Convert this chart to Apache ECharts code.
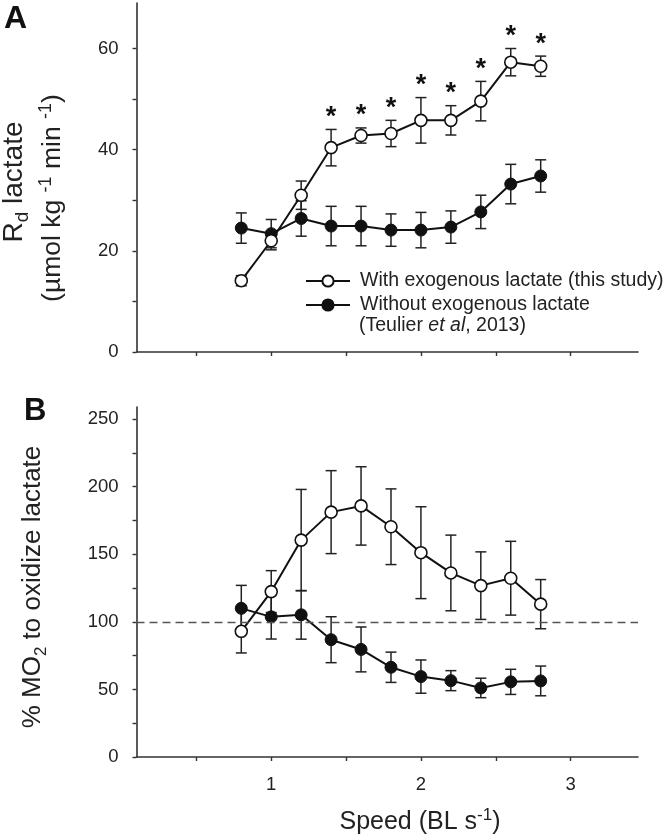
<!DOCTYPE html>
<html>
<head>
<meta charset="utf-8">
<script src="https://cdn.jsdelivr.net/npm/echarts@6/dist/echarts.min.js"></script>
<style>
html,body{margin:0;padding:0;background:#fff;}
#chart{width:663px;height:838px;}
</style>
</head>
<body>
<div id="chart"></div>
<script>
// ---- data ----
var speed = [0.8, 1.0, 1.2, 1.4, 1.6, 1.8, 2.0, 2.2, 2.4, 2.6, 2.8];
var rdWith = [14.1, 22.0, 31.0, 40.4, 42.8, 43.2, 45.8, 45.8, 49.6, 57.3, 56.5];
var rdWithErr = [1.0, 1.8, 2.8, 3.6, 1.5, 2.6, 4.5, 2.9, 3.9, 2.7, 2.0];
var rdWithout = [24.5, 23.4, 26.4, 24.9, 24.9, 24.1, 24.1, 24.7, 27.7, 33.2, 34.8];
var rdWithoutErr = [3.0, 2.8, 3.5, 3.9, 3.9, 3.2, 3.5, 3.2, 3.3, 3.9, 3.2];
var rdSignificant = [0, 0, 0, 1, 1, 1, 1, 1, 1, 1, 1];
var mo2With = [93.0, 122.4, 160.5, 181.2, 185.8, 170.4, 151.2, 136.2, 126.8, 132.3, 113.1];
var mo2WithErr = [16.0, 15.5, 37.5, 30.7, 29.0, 28.0, 34.0, 28.0, 25.0, 27.3, 18.2];
var mo2Without = [110.0, 103.7, 105.2, 86.8, 79.6, 66.4, 59.5, 56.5, 51.1, 55.6, 56.3];
var mo2WithoutErr = [17.0, 16.4, 18.0, 17.0, 16.6, 11.2, 12.3, 7.4, 7.2, 9.3, 11.0];
var xTicks = [0.5, 1, 1.5, 2, 2.5, 3];
var xLabels = [1, 2, 3];
var yTicksA = [0, 10, 20, 30, 40, 50, 60];
var yLabelsA = [0, 20, 40, 60];
var yTicksB = [0, 25, 50, 75, 100, 125, 150, 175, 200, 225, 250];
var yLabelsB = [0, 50, 100, 150, 200, 250];
var refLineB = 100;
var nameWith = 'With exogenous lactate (this study)';
var nameWithout = 'Without exogenous lactate';

var FONT = '"Liberation Sans", Arial, Helvetica, sans-serif';
var INK = '#111';
var AXIS = '#333';
var TXT = '#222';

function pts(ys) { return speed.map(function (x, i) { return [x, ys[i]]; }); }
function errPts(ys, es) { return speed.map(function (x, i) { return [x, ys[i], es[i]]; }); }

function errRender(params, api) {
  var x = api.value(0), m = api.value(1), e = api.value(2);
  var hi = api.coord([x, m + e]);
  var lo = api.coord([x, m - e]);
  var w = 5.5;
  var st = { stroke: '#222', lineWidth: 1.5 };
  return {
    type: 'group',
    children: [
      { type: 'line', shape: { x1: hi[0], y1: hi[1], x2: lo[0], y2: lo[1] }, style: st },
      { type: 'line', shape: { x1: hi[0] - w, y1: hi[1], x2: hi[0] + w, y2: hi[1] }, style: st },
      { type: 'line', shape: { x1: lo[0] - w, y1: lo[1], x2: lo[0] + w, y2: lo[1] }, style: st }
    ]
  };
}

function starRender(params, api) {
  var x = api.value(0), m = api.value(1), e = api.value(2), s = api.value(3);
  if (!s) return null;
  var p = api.coord([x, m + e]);
  return {
    type: 'text',
    style: {
      x: p[0], y: p[1] - 12, text: '*',
      font: 'bold 27px ' + FONT, fill: INK,
      align: 'center', verticalAlign: 'middle'
    }
  };
}

function xAxis(idx, showLabels) {
  return {
    type: 'value', gridIndex: idx, min: 0.1, max: 3.45,
    axisLine: { lineStyle: { color: AXIS, width: 1.6 } },
    axisTick: { show: true, length: 4, customValues: xTicks, lineStyle: { color: AXIS, width: 1.4 } },
    axisLabel: { show: showLabels, customValues: xLabels, margin: 18, fontSize: 18.5, fontFamily: FONT, color: TXT },
    splitLine: { show: false }
  };
}
function yAxis(idx, max, ticks, labels) {
  return {
    type: 'value', gridIndex: idx, min: 0, max: max,
    axisLine: { show: true, lineStyle: { color: AXIS, width: 1.6 } },
    axisTick: { show: true, length: 4, customValues: ticks, lineStyle: { color: AXIS, width: 1.4 } },
    axisLabel: { customValues: labels, margin: 18, fontSize: 18.5, fontFamily: FONT, color: TXT },
    splitLine: { show: false }
  };
}

var openStyle = { color: '#fff', borderColor: INK, borderWidth: 1.6 };
var fillStyle = { color: INK, borderColor: INK, borderWidth: 1 };

var option = {
  animation: false,
  backgroundColor: '#fff',
  grid: [
    { left: 136.5, right: 25, top: 3, height: 349 },
    { left: 136.5, right: 25, top: 407, height: 350 }
  ],
  xAxis: [xAxis(0, false), xAxis(1, true)],
  yAxis: [yAxis(0, 69, yTicksA, yLabelsA), yAxis(1, 259, yTicksB, yLabelsB)],
  legend: {
    orient: 'vertical', left: 305, top: 270, padding: 0,
    itemWidth: 44, itemHeight: 14, itemGap: 2,
    textStyle: { fontSize: 19.5, fontFamily: FONT, color: TXT, lineHeight: 22, padding: [0, 0, 0, 5] },
    data: [nameWith, nameWithout]
  },
  series: [
    { type: 'custom', xAxisIndex: 0, yAxisIndex: 0, renderItem: errRender, data: errPts(rdWithout, rdWithoutErr), z: 1, silent: true },
    { type: 'custom', xAxisIndex: 0, yAxisIndex: 0, renderItem: errRender, data: errPts(rdWith, rdWithErr), z: 1, silent: true },
    { name: nameWithout, type: 'line', xAxisIndex: 0, yAxisIndex: 0, data: pts(rdWithout), symbol: 'circle', symbolSize: 12,
      lineStyle: { color: INK, width: 2 }, itemStyle: fillStyle, z: 3 },
    { name: nameWith, type: 'line', xAxisIndex: 0, yAxisIndex: 0, data: pts(rdWith), symbol: 'circle', symbolSize: 12,
      lineStyle: { color: INK, width: 2 }, itemStyle: openStyle, z: 4 },
    { type: 'custom', xAxisIndex: 0, yAxisIndex: 0, renderItem: starRender,
      data: speed.map(function (x, i) { return [x, rdWith[i], rdWithErr[i], rdSignificant[i]]; }), z: 5, silent: true },

    { type: 'custom', xAxisIndex: 1, yAxisIndex: 1, renderItem: errRender, data: errPts(mo2Without, mo2WithoutErr), z: 1, silent: true },
    { type: 'custom', xAxisIndex: 1, yAxisIndex: 1, renderItem: errRender, data: errPts(mo2With, mo2WithErr), z: 1, silent: true },
    { name: nameWithout, type: 'line', xAxisIndex: 1, yAxisIndex: 1, data: pts(mo2Without), symbol: 'circle', symbolSize: 12,
      lineStyle: { color: INK, width: 2 }, itemStyle: fillStyle, z: 3,
      markLine: { silent: true, symbol: 'none', label: { show: false },
        lineStyle: { type: [8, 5], color: '#555', width: 1.3 },
        data: [{ yAxis: refLineB }] } },
    { name: nameWith, type: 'line', xAxisIndex: 1, yAxisIndex: 1, data: pts(mo2With), symbol: 'circle', symbolSize: 12,
      lineStyle: { color: INK, width: 2 }, itemStyle: openStyle, z: 4 }
  ],
  graphic: [
    { type: 'text', left: 4, top: 3, style: { text: 'A', font: 'bold 32px ' + FONT, fill: INK } },
    { type: 'text', left: 24, top: 396, style: { text: 'B', font: 'bold 31px ' + FONT, fill: INK } },
    { type: 'text', x: 14, y: 182, rotation: Math.PI / 2,
      style: { text: 'R{sub|d} lactate', font: '28px ' + FONT, fill: TXT, align: 'center', verticalAlign: 'middle',
        rich: { sub: { fontSize: 19, fontFamily: FONT, verticalAlign: 'bottom', lineHeight: 20, fill: TXT } }, lineHeight: 36 } },
    { type: 'text', x: 53, y: 198, rotation: Math.PI / 2,
      style: { text: '(\u00b5mol kg {sup|-1} min {sup|-1})', font: '26.5px ' + FONT, fill: TXT, align: 'center', verticalAlign: 'middle',
        rich: { sup: { fontSize: 18, fontFamily: FONT, verticalAlign: 'top', lineHeight: 20, fill: TXT } }, lineHeight: 32 } },
    { type: 'text', x: 33, y: 587, rotation: Math.PI / 2,
      style: { text: '% MO{sub|2} to oxidize lactate', font: '26px ' + FONT, fill: TXT, align: 'center', verticalAlign: 'middle',
        rich: { sub: { fontSize: 17, fontFamily: FONT, verticalAlign: 'bottom', lineHeight: 17, fill: TXT } }, lineHeight: 34 } },
    { type: 'text', x: 420, y: 822,
      style: { text: 'Speed (BL s{sup|-1})', font: '25px ' + FONT, fill: TXT, align: 'center', verticalAlign: 'middle',
        rich: { sup: { fontSize: 17, fontFamily: FONT, verticalAlign: 'top', lineHeight: 19, fill: TXT } }, lineHeight: 31 } },
    { type: 'text', x: 359, y: 326,
      style: { text: '(Teulier {it|et al}, 2013)', font: '19.5px ' + FONT, fill: TXT, align: 'left', verticalAlign: 'middle',
        rich: { it: { fontStyle: 'italic', fontSize: 19.5, fontFamily: FONT, fill: TXT } } } }
  ]
};

var chart = echarts.init(document.getElementById('chart'), null, { renderer: 'canvas' });
chart.setOption(option);
</script>
</body>
</html>
